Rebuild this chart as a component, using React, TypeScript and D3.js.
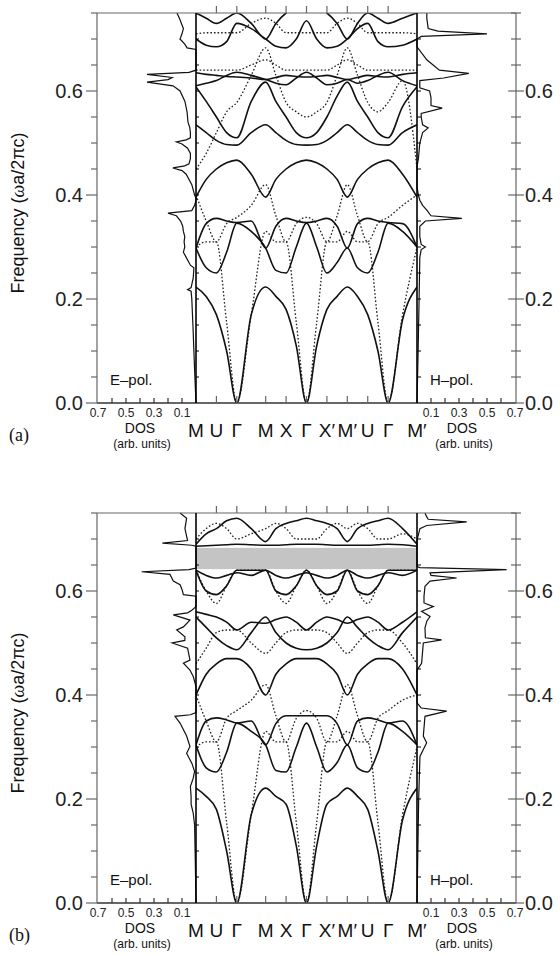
import React, { useEffect, useRef } from "react";
import * as d3 from "d3";

// k-path (distance units along the path)
const K_LABELS = ["M", "U", "Γ", "M", "X", "Γ", "X′", "M′", "U", "Γ", "M′"];
const K_POS = [0, 0.5, 1, 1.707, 2.207, 2.707, 3.207, 3.707, 4.207, 4.707, 5.414];
const FREQ_TICKS = [0, 0.2, 0.4, 0.6];
const DOS_LABELS = [0.1, 0.3, 0.5, 0.7];

// bands are sampled at the symmetry points and the midpoints between them
// panel (a), E-pol (solid)
const A_S1 = [.223, .205, .17, .10, 0, .17, .223, .205, .18, .11, 0, .11, .18, .205, .223, .205, .17, .10, 0, .16, .223];
const A_S2 = [.298, .26, .25, .29, .346, .33, .298, .255, .25, .30, .346, .30, .25, .27, .298, .26, .25, .29, .346, .33, .30];
const A_S3 = [.298, .345, .355, .35, .347, .35, .298, .34, .355, .35, .347, .35, .355, .34, .298, .345, .355, .35, .347, .345, .30];
const A_S4 = [.396, .43, .45, .462, .467, .44, .396, .43, .45, .462, .467, .462, .45, .43, .396, .43, .45, .462, .467, .44, .396];
const A_S5 = [.535, .52, .505, .497, .496, .52, .535, .52, .505, .497, .496, .497, .505, .52, .535, .52, .505, .497, .496, .52, .535];
const A_S6 = [.608, .58, .55, .52, .51, .58, .617, .58, .55, .52, .51, .52, .55, .59, .617, .58, .55, .52, .51, .57, .608];
const A_S7 = [.635, .632, .63, .628, .627, .625, .622, .626, .63, .628, .627, .628, .63, .626, .622, .626, .63, .628, .627, .632, .635];
const A_S8 = [.61, .615, .62, .63, .636, .63, .622, .615, .612, .625, .636, .625, .612, .615, .622, .615, .62, .63, .636, .62, .61];
const A_S9 = [.70, .688, .685, .695, .73, .72, .70, .686, .683, .70, .735, .70, .683, .686, .70, .72, .73, .695, .685, .688, .70];
const A_S10 = [.75, .74, .73, .74, .75, .73, .70, .73, .75, .76, .76, .76, .75, .73, .70, .73, .75, .74, .73, .74, .75];
// panel (a), H-pol (dotted)
const A_D1 = [.30, .31, .31, .155, 0, .17, .33, .31, .31, .155, 0, .155, .31, .31, .33, .31, .31, .155, 0, .17, .30];
const A_D2 = [.40, .35, .31, .345, .357, .38, .42, .36, .31, .345, .357, .345, .31, .36, .42, .36, .31, .345, .357, .38, .40];
const A_D3 = [.45, .48, .52, .56, .578, .63, .683, .63, .578, .56, .55, .56, .578, .63, .683, .63, .578, .56, .578, .62, .45];
const A_D4 = [.64, .64, .64, .64, .64, .65, .66, .65, .64, .64, .64, .64, .64, .65, .66, .65, .64, .64, .64, .64, .64];
const A_D5 = [.71, .712, .712, .712, .712, .73, .74, .73, .712, .712, .712, .712, .712, .73, .74, .73, .712, .712, .712, .712, .71];

// panel (b), E-pol (solid)
const B_S1 = [.221, .205, .18, .10, 0, .17, .221, .205, .19, .11, 0, .11, .19, .205, .221, .205, .18, .10, 0, .16, .221];
const B_S2 = [.304, .26, .252, .29, .346, .33, .304, .255, .252, .30, .346, .30, .252, .27, .304, .26, .252, .29, .346, .33, .304];
const B_S3 = [.304, .35, .356, .352, .346, .35, .304, .345, .36, .36, .36, .36, .36, .345, .304, .35, .356, .352, .346, .35, .304];
const B_S4 = [.40, .44, .46, .47, .47, .45, .40, .44, .46, .47, .47, .47, .46, .44, .40, .44, .46, .47, .47, .45, .40];
const B_S5 = [.55, .53, .51, .495, .487, .52, .55, .52, .50, .49, .487, .49, .50, .52, .55, .53, .51, .495, .487, .52, .55];
const B_S6 = [.56, .555, .55, .54, .525, .54, .538, .545, .55, .54, .525, .54, .55, .545, .538, .545, .55, .54, .525, .54, .56];
const B_S7 = [.64, .63, .625, .63, .635, .63, .64, .63, .625, .63, .635, .63, .625, .63, .64, .63, .625, .63, .635, .63, .64];
const B_S8 = [.64, .60, .593, .61, .64, .64, .64, .60, .593, .61, .64, .61, .593, .60, .64, .60, .593, .61, .64, .64, .64];
const B_S9 = [.686, .687, .688, .689, .69, .689, .688, .688, .689, .69, .69, .69, .689, .688, .688, .688, .688, .689, .69, .689, .686];
const B_S10 = [.69, .71, .72, .735, .74, .72, .695, .72, .73, .735, .74, .735, .73, .72, .695, .72, .73, .735, .74, .72, .69];
// panel (b), H-pol (dotted)
const B_D1 = [.30, .31, .31, .155, 0, .17, .33, .31, .31, .155, 0, .155, .31, .31, .33, .31, .31, .155, 0, .17, .30];
const B_D2 = [.40, .35, .31, .355, .37, .39, .42, .36, .31, .355, .37, .355, .31, .36, .42, .36, .31, .355, .37, .39, .40];
const B_D3 = [.46, .49, .52, .525, .525, .50, .48, .50, .52, .525, .525, .525, .52, .50, .48, .50, .52, .525, .525, .50, .46];
const B_D4 = [.64, .60, .576, .61, .64, .64, .64, .60, .576, .61, .64, .61, .576, .60, .64, .60, .576, .61, .64, .64, .64];
const B_D5 = [.70, .72, .73, .72, .70, .71, .72, .73, .72, .70, .70, .70, .72, .73, .72, .73, .72, .70, .70, .71, .70];

// density of states: [frequency, dos]
const A_DOS_E = [[0, 0], [.05, .008], [.10, .015], [.15, .022], [.20, .03], [.215, .035], [.218, .06], [.222, .035], [.24, .02], [.26, .015], [.265, .04], [.28, .07], [.29, .09], [.30, .08], [.31, .085], [.32, .08], [.33, .09], [.34, .095], [.35, .11], [.36, .14], [.365, .2], [.37, .03], [.38, .01], [.39, 0], [.394, 0], [.40, .01], [.42, .03], [.44, .07], [.447, .1], [.452, .165], [.456, .08], [.46, .05], [.47, .04], [.48, .04], [.49, .06], [.498, .1], [.502, .14], [.506, .07], [.51, .04], [.52, .04], [.53, .045], [.54, .057], [.56, .064], [.58, .079], [.60, .114], [.61, .164], [.617, .35], [.622, .2], [.626, .17], [.632, .35], [.636, .05], [.64, 0], [.68, 0], [.683, .064], [.69, .08], [.70, .114], [.71, .1], [.72, .09], [.727, .1], [.737, .114], [.75, .136]];
const A_DOS_H = [[0, 0], [.1, .008], [.2, .015], [.28, .02], [.295, .03], [.30, .06], [.305, .03], [.32, .02], [.34, .02], [.35, .06], [.355, .32], [.36, .1], [.371, .07], [.38, .04], [.39, .02], [.40, .01], [.415, 0], [.455, 0], [.47, .01], [.50, .02], [.52, .04], [.529, .08], [.535, .04], [.55, .03], [.557, .03], [.567, .18], [.572, .1], [.587, .1], [.60, .09], [.606, .02], [.62, .02], [.625, .19], [.634, .37], [.64, .16], [.66, .07], [.685, 0], [.70, 0], [.705, .03], [.71, .5], [.715, .15], [.72, .08], [.74, .07], [.75, .07]];
const B_DOS_E = [[0, 0], [.08, .005], [.15, .01], [.173, .02], [.19, .035], [.205, .035], [.224, .04], [.24, .02], [.253, .01], [.269, .03], [.288, .067], [.301, .043], [.321, .067], [.346, .114], [.359, .15], [.362, .04], [.366, 0], [.416, 0], [.435, .019], [.448, .043], [.461, .09], [.467, .043], [.49, .06], [.50, .17], [.505, .08], [.512, .079], [.525, .138], [.531, .09], [.544, .043], [.554, .162], [.558, .06], [.563, .03], [.57, 0], [.59, 0], [.593, .09], [.603, .1], [.612, .114], [.619, .162], [.632, .186], [.637, .388], [.641, .05], [.644, 0], [.686, 0], [.688, .03], [.692, .24], [.697, .06], [.705, .067], [.72, .079], [.74, .067], [.75, .114]];
const B_DOS_H = [[0, 0], [.1, .006], [.2, .012], [.282, .021], [.308, .069], [.321, .045], [.359, .057], [.369, .212], [.375, .03], [.385, 0], [.448, 0], [.461, .033], [.5, .045], [.506, .176], [.51, .06], [.529, .057], [.542, .07], [.551, .093], [.561, .033], [.57, .117], [.577, .05], [.59, .05], [.609, .057], [.619, .093], [.625, .283], [.63, .1], [.635, .093], [.641, .64], [.645, .02], [.647, 0], [.698, 0], [.72, .021], [.726, .069], [.733, .355], [.738, .08], [.743, .069], [.75, .057]];

const B_GAP = [0.642, 0.683];

const W = 560;
const H = 956;
const PLOT_H = 390;
const X_AXIS_L = 97;
const X_BAND_L = 196;
const X_BAND_R = 417;
const X_AXIS_R = 516;
const SANS = "'Liberation Sans', Arial, Helvetica, sans-serif";

function kSamples() {
  const out: number[] = [];
  K_POS.forEach((k, i) => {
    out.push(k);
    if (i < K_POS.length - 1) out.push((k + K_POS[i + 1]) / 2);
  });
  return out;
}

function drawPanel(svg: any, top: number, cfg: any) {
  const zero = top + PLOT_H;
  const g = svg.append("g");
  const y = d3.scaleLinear().domain([0, 0.75]).range([zero, top]);
  const x = d3.scaleLinear().domain([0, K_POS[K_POS.length - 1]]).range([X_BAND_L, X_BAND_R]);
  const dosL = d3.scaleLinear().domain([0, 0.7]).range([X_BAND_L, X_AXIS_L + 1]);
  const dosR = d3.scaleLinear().domain([0, 0.7]).range([X_BAND_R, X_AXIS_R - 1]);
  const ks = kSamples();

  const clipId = "clip" + cfg.id;
  g.append("clipPath").attr("id", clipId)
    .append("rect").attr("x", X_BAND_L).attr("y", top).attr("width", X_BAND_R - X_BAND_L).attr("height", PLOT_H);

  if (cfg.gap) {
    g.append("rect")
      .attr("x", X_BAND_L).attr("width", X_BAND_R - X_BAND_L)
      .attr("y", y(cfg.gap[1])).attr("height", y(cfg.gap[0]) - y(cfg.gap[1]))
      .attr("fill", "#c4c4c4");
  }

  const line = d3.line<number>()
    .x((_, i) => x(ks[i]))
    .y(d => y(d))
    .curve(d3.curveMonotoneX);

  const bands = g.append("g").attr("clip-path", `url(#${clipId})`);
  cfg.dotted.forEach((b: number[]) => {
    bands.append("path").attr("d", line(b)).attr("fill", "none")
      .attr("stroke", "#222").attr("stroke-width", 1.3).attr("stroke-dasharray", "1.6 2");
  });
  cfg.solid.forEach((b: number[]) => {
    bands.append("path").attr("d", line(b)).attr("fill", "none")
      .attr("stroke", "#111").attr("stroke-width", 1.6);
  });

  // DOS curves
  const dosLine = (sc: any) => d3.line<number[]>().x(d => sc(d[1])).y(d => y(d[0]));
  g.append("path").attr("d", dosLine(dosL)(cfg.dosE)).attr("fill", "none")
    .attr("stroke", "#111").attr("stroke-width", 1.2);
  g.append("path").attr("d", dosLine(dosR)(cfg.dosH)).attr("fill", "none")
    .attr("stroke", "#111").attr("stroke-width", 1.2);

  // frame
  const gray = "#666";
  g.append("line").attr("x1", X_AXIS_L).attr("x2", X_AXIS_R).attr("y1", top).attr("y2", top)
    .attr("stroke", gray).attr("stroke-width", 1.2);
  g.append("line").attr("x1", X_AXIS_L).attr("x2", X_AXIS_R).attr("y1", zero).attr("y2", zero)
    .attr("stroke", "#333").attr("stroke-width", 1.3);
  g.append("line").attr("x1", X_AXIS_L).attr("x2", X_AXIS_L).attr("y1", top).attr("y2", zero)
    .attr("stroke", gray).attr("stroke-width", 1.2);
  g.append("line").attr("x1", X_AXIS_R).attr("x2", X_AXIS_R).attr("y1", top).attr("y2", zero)
    .attr("stroke", gray).attr("stroke-width", 1.2);
  [X_BAND_L, X_BAND_R].forEach(xx => {
    g.append("line").attr("x1", xx).attr("x2", xx).attr("y1", top).attr("y2", zero)
      .attr("stroke", "#000").attr("stroke-width", 1.6);
  });

  // frequency ticks
  const minor = d3.range(0, 0.751, 0.05);
  minor.forEach(v => {
    const major = FREQ_TICKS.some(t => Math.abs(t - v) < 1e-6);
    const yy = y(v);
    g.append("line").attr("x1", X_AXIS_L - (major ? 11 : 6)).attr("x2", X_AXIS_L)
      .attr("y1", yy).attr("y2", yy).attr("stroke", gray).attr("stroke-width", 1.2);
    g.append("line").attr("x1", X_AXIS_R - (major ? 8 : 5)).attr("x2", X_AXIS_R + (major ? 8 : 5))
      .attr("y1", yy).attr("y2", yy).attr("stroke", gray).attr("stroke-width", 1.2);
    if (v > 0 && v < 0.75) {
      g.append("line").attr("x1", X_BAND_L).attr("x2", X_BAND_L + 3)
        .attr("y1", yy).attr("y2", yy).attr("stroke", "#000").attr("stroke-width", 1);
      g.append("line").attr("x1", X_BAND_R).attr("x2", X_BAND_R + 4)
        .attr("y1", yy).attr("y2", yy).attr("stroke", "#000").attr("stroke-width", 1);
    }
  });
  FREQ_TICKS.forEach(t => {
    g.append("text").attr("x", X_AXIS_L - 14).attr("y", y(t)).attr("dy", "0.36em")
      .attr("text-anchor", "end").attr("font-family", SANS).attr("font-size", 20)
      .attr("fill", "#222").text(t.toFixed(1));
    g.append("text").attr("x", X_AXIS_R + 9).attr("y", y(t)).attr("dy", "0.36em")
      .attr("text-anchor", "start").attr("font-family", SANS).attr("font-size", 20)
      .attr("fill", "#222").text(t.toFixed(1));
  });

  // k ticks
  K_POS.slice(1, -1).forEach(k => {
    const xx = x(k);
    g.append("line").attr("x1", xx).attr("x2", xx).attr("y1", top).attr("y2", top - 7)
      .attr("stroke", gray).attr("stroke-width", 1.2);
    g.append("line").attr("x1", xx).attr("x2", xx).attr("y1", zero).attr("y2", zero - 7)
      .attr("stroke", gray).attr("stroke-width", 1.2);
  });
  K_LABELS.forEach((lab, i) => {
    g.append("text").attr("x", x(K_POS[i])).attr("y", zero + 34)
      .attr("text-anchor", "middle").attr("font-family", SANS).attr("font-size", 19)
      .attr("fill", "#111").text(lab);
  });

  // DOS ticks
  d3.range(0.1, 0.65, 0.1).forEach(v => {
    [dosL(v), dosR(v)].forEach(xx => {
      g.append("line").attr("x1", xx).attr("x2", xx).attr("y1", zero).attr("y2", zero - 5)
        .attr("stroke", "#333").attr("stroke-width", 1.2);
    });
  });
  DOS_LABELS.forEach(v => {
    [dosL(v), dosR(v)].forEach(xx => {
      g.append("text").attr("x", xx).attr("y", zero + 14).attr("text-anchor", "middle")
        .attr("font-family", SANS).attr("font-size", 12).attr("fill", "#222").text(v.toFixed(1));
    });
  });
  [140, 462].forEach(xx => {
    g.append("text").attr("x", xx).attr("y", zero + 30).attr("text-anchor", "middle")
      .attr("font-family", SANS).attr("font-size", 14).attr("fill", "#111").text("DOS");
    g.append("text").attr("x", xx + 2).attr("y", zero + 45).attr("text-anchor", "middle")
      .attr("font-family", SANS).attr("font-size", 12).attr("fill", "#111").text("(arb. units)");
  });

  g.append("text").attr("x", 110).attr("y", zero - 18).attr("font-family", SANS)
    .attr("font-size", 15).attr("fill", "#111").text("E–pol.");
  g.append("text").attr("x", 430).attr("y", zero - 18).attr("font-family", SANS)
    .attr("font-size", 15).attr("fill", "#111").text("H–pol.");

  g.append("text").attr("x", 9).attr("y", zero + 38)
    .attr("font-family", "'Liberation Serif', 'Times New Roman', serif")
    .attr("font-size", 18).attr("fill", "#111").text(cfg.tag);

  const yl = g.append("text")
    .attr("transform", `translate(24, ${top + 200}) rotate(-90)`)
    .attr("text-anchor", "middle").attr("font-family", SANS).attr("font-size", 18).attr("fill", "#111");
  yl.append("tspan").text("Frequency (");
  yl.append("tspan").attr("font-family", "'Liberation Serif', serif").attr("font-style", "italic").text("ω");
  yl.append("tspan").text("a/2πc)");
}

export default function App() {
  const ref = useRef<SVGSVGElement>(null);
  useEffect(() => {
    if (!ref.current) return;
    const svg = d3.select(ref.current);
    svg.selectAll("*").remove();
    drawPanel(svg, 13, {
      id: "a", tag: "(a)",
      solid: [A_S1, A_S2, A_S3, A_S4, A_S5, A_S6, A_S7, A_S8, A_S9, A_S10],
      dotted: [A_D1, A_D2, A_D3, A_D4, A_D5],
      dosE: A_DOS_E, dosH: A_DOS_H,
    });
    drawPanel(svg, 513, {
      id: "b", tag: "(b)",
      solid: [B_S1, B_S2, B_S3, B_S4, B_S5, B_S6, B_S7, B_S8, B_S9, B_S10],
      dotted: [B_D1, B_D2, B_D3, B_D4, B_D5],
      dosE: B_DOS_E, dosH: B_DOS_H,
      gap: B_GAP,
    });
  }, []);
  return (
    <svg ref={ref} width={W} height={H}
      style={{ position: "absolute", left: 0, top: 0, background: "#fff" }} />
  );
}
